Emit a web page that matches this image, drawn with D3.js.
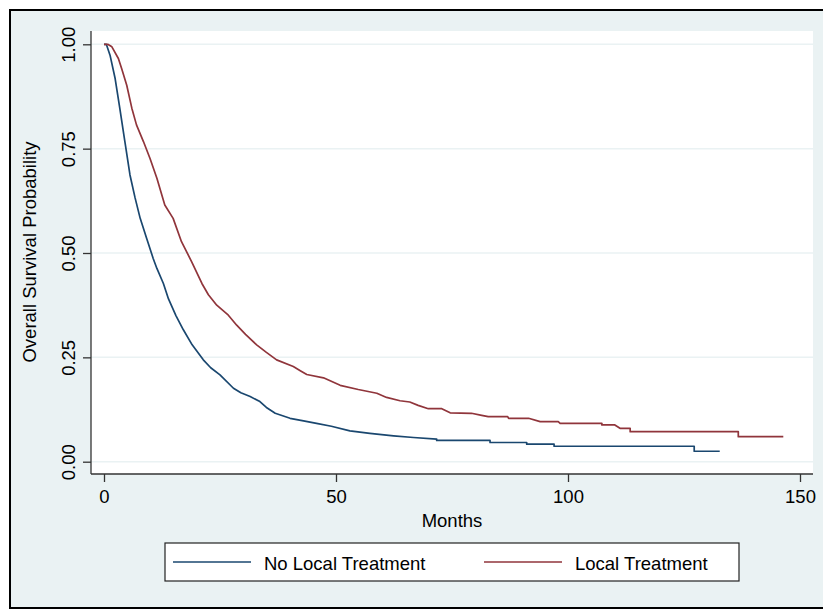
<!DOCTYPE html>
<html>
<head>
<meta charset="utf-8">
<script src="https://cdn.jsdelivr.net/npm/d3@7"></script>
<style>
  body { margin: 0; background: #ffffff; }
  svg { display: block; font-family: "Liberation Sans", Arial, Helvetica, sans-serif; }
</style>
</head>
<body>
<svg id="kmChart"></svg>
<script>
// Kaplan-Meier readings: months and overall survival probability
const noLocalMonths = [0, 0.5, 1.3, 2.4, 3.4, 4.5, 5.6, 6.7, 7.8, 9.2, 10.6, 11.4, 12.8, 13.9, 15.5, 17.1, 19, 21.4, 23, 25, 27.9, 29.5, 31.5, 33.6, 35, 36.9, 40.1, 43, 45.8, 49, 53, 57.3, 62.4, 66.7, 71.7, 71.7, 83.2, 83.2, 91.1, 91.1, 97, 97, 127.2, 127.2, 132.7];
const noLocalSurv = [1, 1, 0.974, 0.918, 0.847, 0.767, 0.687, 0.632, 0.583, 0.535, 0.487, 0.463, 0.427, 0.39, 0.35, 0.316, 0.28, 0.244, 0.225, 0.208, 0.176, 0.165, 0.156, 0.144, 0.13, 0.116, 0.104, 0.098, 0.092, 0.085, 0.074, 0.068, 0.062, 0.058, 0.054, 0.051, 0.051, 0.046, 0.046, 0.042, 0.042, 0.037, 0.037, 0.025, 0.025];

const localMonths = [0, 0.8, 1.7, 3.1, 3.8, 4.9, 6.0, 7.0, 8.5, 9.9, 11.4, 13.1, 14.9, 16.7, 18.9, 21.1, 22.5, 24.3, 26.8, 28.6, 30.5, 32.9, 35, 37.2, 40.8, 42.3, 43.7, 47.3, 50.9, 54.8, 58.8, 60.9, 63.8, 65.9, 67.7, 69.9, 72.8, 74.6, 79.2, 81.4, 82.8, 87, 87.2, 91.5, 94, 97.9, 98.3, 107.3, 107.3, 110.1, 111.2, 113.4, 113.4, 136.7, 136.7, 146.4];
const localSurv = [1, 1, 0.994, 0.966, 0.942, 0.902, 0.847, 0.807, 0.767, 0.727, 0.679, 0.615, 0.583, 0.527, 0.479, 0.427, 0.4, 0.375, 0.351, 0.327, 0.305, 0.28, 0.262, 0.244, 0.228, 0.218, 0.209, 0.201, 0.183, 0.173, 0.164, 0.154, 0.146, 0.143, 0.135, 0.127, 0.127, 0.117, 0.116, 0.111, 0.108, 0.108, 0.104, 0.104, 0.096, 0.096, 0.092, 0.092, 0.088, 0.088, 0.08, 0.08, 0.072, 0.072, 0.06, 0.06];

const seriesNames = ["No Local Treatment", "Local Treatment"];
const xTicks = [0, 50, 100, 150];
const yTicks = [0, 0.25, 0.5, 0.75, 1];

const width = 823;
const height = 610;
const bg = "#eaf2f3";
const colors = ["#1a476f", "#90353b"];
const fontSize = "18.5px";

const svg = d3.select("#kmChart").attr("width", width).attr("height", height);

// Figure background and frame
svg.append("rect")
  .attr("x", 10).attr("y", 10)
  .attr("width", 840).attr("height", 598)
  .attr("fill", bg)
  .attr("stroke", "#000")
  .attr("stroke-width", 2);

// Plot region
const plot = { left: 91, right: 813, top: 31, bottom: 474 };
svg.append("rect")
  .attr("x", plot.left).attr("y", plot.top)
  .attr("width", plot.right - plot.left)
  .attr("height", plot.bottom - plot.top)
  .attr("fill", "#ffffff");

// Scales
const xScale = d3.scaleLinear().domain([0, 150]).range([104, 800]);
const yScale = d3.scaleLinear().domain([0, 1]).range([461.7, 44.3]);

// Gridlines
svg.append("g")
  .selectAll("line")
  .data(yTicks)
  .enter()
  .append("line")
  .attr("x1", plot.left)
  .attr("x2", plot.right)
  .attr("y1", (d) => yScale(d))
  .attr("y2", (d) => yScale(d))
  .attr("stroke", bg)
  .attr("stroke-width", 1.5);

// Axes
const yAxis = svg.append("g")
  .attr("transform", `translate(${plot.left},0)`)
  .call(d3.axisLeft(yScale).tickValues(yTicks).tickFormat(d3.format(".2f")).tickSize(8).tickSizeOuter(0));

const xAxis = svg.append("g")
  .attr("transform", `translate(0,${plot.bottom})`)
  .call(d3.axisBottom(xScale).tickValues(xTicks).tickSize(8).tickSizeOuter(0));

// stretch axis lines across the plot region
yAxis.select(".domain").attr("d", `M0,${plot.top}V${plot.bottom}`);
xAxis.select(".domain").attr("d", `M${plot.left},0H${plot.right}`);

[yAxis, xAxis].forEach((ax) => {
  ax.select(".domain").attr("stroke", "#333").attr("stroke-width", 1.3);
  ax.selectAll(".tick line").attr("stroke", "#333").attr("stroke-width", 1.3);
  ax.selectAll(".tick text")
    .attr("fill", "#000")
    .attr("font-size", fontSize)
    .attr("font-family", "'Liberation Sans', Arial, sans-serif");
});

// rotated y tick labels
yAxis.selectAll(".tick text")
  .attr("x", null).attr("dy", null)
  .attr("text-anchor", "middle")
  .attr("transform", "translate(-16,0) rotate(-90)")
  .attr("y", 0);

xAxis.selectAll(".tick text").attr("y", 29).attr("dy", null);

// Axis titles
svg.append("text")
  .attr("x", 452)
  .attr("y", 527)
  .attr("text-anchor", "middle")
  .attr("font-size", fontSize)
  .text("Months");

svg.append("text")
  .attr("transform", "translate(36,252) rotate(-90)")
  .attr("text-anchor", "middle")
  .attr("font-size", fontSize)
  .text("Overall Survival Probability");

// Survival curves
const line = d3.line()
  .x((d) => xScale(d[0]))
  .y((d) => yScale(d[1]));

const curves = [
  d3.zip(noLocalMonths, noLocalSurv),
  d3.zip(localMonths, localSurv),
];

svg.append("g")
  .selectAll("path")
  .data(curves)
  .enter()
  .append("path")
  .attr("d", (d) => line(d))
  .attr("fill", "none")
  .attr("stroke", (d, i) => colors[i])
  .attr("stroke-width", 1.7)
  .attr("stroke-linejoin", "round");

// Legend
const legend = svg.append("g");
legend.append("rect")
  .attr("x", 165).attr("y", 543)
  .attr("width", 574).attr("height", 38)
  .attr("fill", "#ffffff")
  .attr("stroke", "#222")
  .attr("stroke-width", 1.2);

const legendX = [173, 484];
const items = legend.selectAll(".item")
  .data(seriesNames)
  .enter()
  .append("g")
  .attr("class", "item");

items.append("line")
  .attr("x1", (d, i) => legendX[i])
  .attr("x2", (d, i) => legendX[i] + 78)
  .attr("y1", 562).attr("y2", 562)
  .attr("stroke", (d, i) => colors[i])
  .attr("stroke-width", 1.7);

items.append("text")
  .attr("x", (d, i) => legendX[i] + 91)
  .attr("y", 570)
  .attr("font-size", fontSize)
  .text((d) => d);
</script>
</body>
</html>
